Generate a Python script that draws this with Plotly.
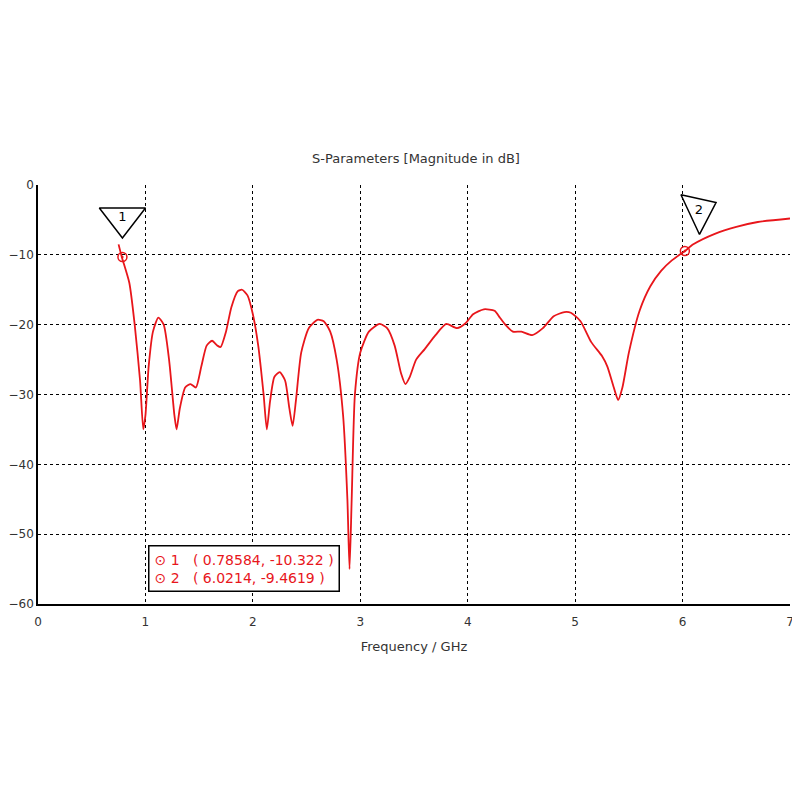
import plotly.graph_objects as go

freq = [0.75,0.78,0.85,0.9,0.95,0.98,1.0,1.03,1.07,1.12,1.17,1.22,1.27,1.29,1.32,1.37,1.42,1.47,1.52,1.57,1.62,1.67,1.7,1.75,1.8,1.86,1.9,1.95,2.0,2.05,2.1,2.13,2.16,2.2,2.25,2.3,2.34,2.37,2.4,2.45,2.52,2.6,2.66,2.72,2.78,2.84,2.88,2.9,2.92,2.95,3.0,3.08,3.18,3.25,3.32,3.38,3.42,3.46,3.52,3.6,3.7,3.8,3.9,3.98,4.05,4.15,4.25,4.3,4.35,4.42,4.5,4.6,4.7,4.8,4.9,4.96,5.05,5.15,5.25,5.3,5.36,5.4,5.44,5.5,5.6,5.7,5.8,5.9,6.0214,6.1,6.3,6.5,6.7,7.0]
s11 = [-8.5,-10.3,-14,-20,-28,-35,-33,-26,-21,-19,-20,-25,-33,-35,-32,-29,-28.5,-29,-26,-23,-22.3,-23,-23.2,-21,-17.5,-15.2,-15,-15.8,-18.5,-23,-30,-35,-31,-27.5,-26.8,-28,-32,-34.5,-31,-24,-20.5,-19.3,-19.5,-21,-25,-33,-45,-55,-45,-30,-24,-21,-19.9,-20.5,-23,-27,-28.5,-27.5,-25,-23.5,-21.5,-19.9,-20.5,-19.8,-18.5,-17.8,-18,-19,-20,-21,-21,-21.5,-20.5,-18.8,-18.2,-18.3,-19.5,-22.5,-24.5,-26,-29,-30.8,-29,-24,-18,-14.5,-12.3,-10.8,-9.4619,-8.5,-7,-6,-5.3,-4.8]
mk_x = [0.78584, 6.0214]
mk_y = [-10.322, -9.4619]
mk_lab = ["1", "2"]

fig = go.Figure()
fig.add_trace(go.Scatter(x=freq, y=s11, mode="lines", line=dict(color="#e8161b", width=1.8, shape="spline", smoothing=0.6), showlegend=False))
fig.add_trace(go.Scatter(x=mk_x, y=mk_y, mode="markers", marker=dict(symbol="circle-dot", size=9, color="rgba(0,0,0,0)", line=dict(color="#e8161b", width=1.5)), showlegend=False))
fig.add_trace(go.Scatter(x=[mk_x[0]], y=[mk_y[0]+5.6], mode="markers+text", text=[mk_lab[0]], textposition="middle center",
                         textfont=dict(size=13, color="black"),
                         marker=dict(symbol="triangle-down-open", size=40, color="black", line=dict(width=1.5)), showlegend=False))
fig.add_trace(go.Scatter(x=[mk_x[1]+0.13], y=[mk_y[1]+5.8], mode="markers+text", text=[mk_lab[1]], textposition="middle center",
                         textfont=dict(size=13, color="black"),
                         marker=dict(symbol="triangle-right-open", size=38, angle=-25, color="black", line=dict(width=1.5)), showlegend=False))

legtext = "<br>".join(f"⊙ {l}   ( {x:g}, {y:g} )" for l, x, y in zip(mk_lab, mk_x, mk_y))
fig.add_annotation(x=1.02, y=-51.6, xref="x", yref="y", xanchor="left", yanchor="top", align="left",
                   text=legtext, showarrow=False, font=dict(size=14, color="#e8161b", family="DejaVu Sans"),
                   bordercolor="black", borderwidth=1.5, bgcolor="white", borderpad=5)

grid = dict(showgrid=True, gridcolor="black", griddash="dot", gridwidth=1, showline=True, linecolor="black", linewidth=1.5,
            ticks="", zeroline=False, automargin=False, tickfont=dict(size=12, color="#333"))
fig.update_xaxes(range=[0, 7], dtick=1, ticklabelstandoff=6,
                 title=dict(text="Frequency / GHz", font=dict(size=13, color="#333"), standoff=14), **grid)
fig.update_yaxes(range=[-60, 0], dtick=10, **grid)
fig.update_layout(width=800, height=800, plot_bgcolor="white", paper_bgcolor="white",
                  margin=dict(l=30, r=18, t=177, b=204, autoexpand=False),
                  font=dict(family="DejaVu Sans"),
                  title=dict(text="S-Parameters [Magnitude in dB]", x=0.51, y=0.818, xanchor="center", font=dict(size=13, color="#333")))
fig.write_html("out.html")
